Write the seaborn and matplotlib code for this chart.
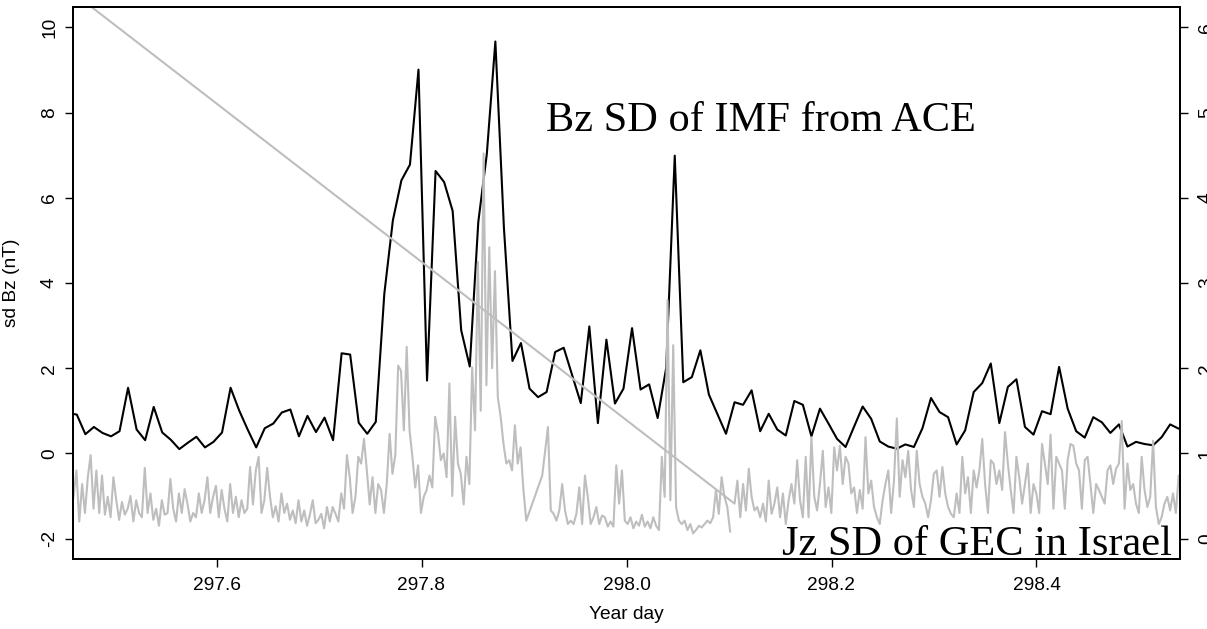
"""Bz SD of the IMF (ACE) against Jz SD of the GEC in Israel, year days 297-298."""
import numpy as np
import pandas as pd

import matplotlib
matplotlib.use("Agg")
import matplotlib.pyplot as plt
import seaborn as sns

# --- data --------------------------------------------------------------------

# Bz SD from ACE (nT), one sample every 12 minutes
bz_start = 297.4554
bz_step = 12 / 1440
bz_sd = [
    0.95,
    0.91, 0.45, 0.62, 0.48, 0.40, 0.52, 1.54, 0.56, 0.31, 1.09,
    0.49, 0.32, 0.10, 0.25, 0.39, 0.14, 0.27, 0.49, 1.54, 1.01,
    0.56, 0.14, 0.59, 0.70, 0.96, 1.03, 0.40, 0.88, 0.50, 0.84,
    0.31, 2.35, 2.32, 0.72, 0.46, 0.74, 3.75, 5.47, 6.41, 6.78,
    9.01, 1.71, 6.63, 6.37, 5.69, 2.89, 2.04, 5.43, 7.03, 9.67,
    5.30, 2.17, 2.59, 1.52, 1.32, 1.44, 2.38, 2.48, 1.83, 1.18,
    2.98, 0.71, 2.67, 1.17, 1.52, 2.94, 1.50, 1.62, 0.83, 2.01,
    6.99, 1.67, 1.79, 2.42, 1.38, 0.92, 0.46, 1.20, 1.14, 1.48,
    0.52, 0.93, 0.56, 0.42, 1.23, 1.14, 0.40, 1.05, 0.70, 0.34,
    0.15, 0.63, 1.10, 0.81, 0.28, 0.16, 0.11, 0.21, 0.15, 0.59,
    1.30, 0.97, 0.85, 0.21, 0.54, 1.44, 1.65, 2.11, 0.71, 1.56,
    1.74, 0.62, 0.44, 0.99, 0.92, 2.03, 1.05, 0.52, 0.37, 0.85,
    0.73, 0.48, 0.68, 0.16, 0.27, 0.22, 0.19, 0.38, 0.68, 0.58,
]

# Jz SD of the GEC (right axis), 4-minute samples in three pieces
jz_step = 4 / 1440
jz_a_start = 297.455
jz_a = [
    0.45, 0.25, 0.50, 0.80, 0.20, 0.64, 0.30, 0.72, 0.98, 0.35,
    0.80, 0.30, 0.74, 0.28, 0.49, 0.25, 0.72, 0.45, 0.22, 0.43,
    0.28, 0.35, 0.50, 0.20, 0.45, 0.30, 0.25, 0.83, 0.30, 0.53,
    0.22, 0.35, 0.15, 0.45, 0.28, 0.30, 0.70, 0.35, 0.20, 0.53,
    0.30, 0.58, 0.41, 0.20, 0.30, 0.25, 0.53, 0.30, 0.45, 0.72,
    0.30, 0.49, 0.62, 0.25, 0.57, 0.35, 0.20, 0.64, 0.30, 0.49,
    0.25, 0.45, 0.30, 0.35, 0.84, 0.40, 0.80, 0.96, 0.30, 0.45,
    0.83, 0.49, 0.25, 0.38, 0.20, 0.53, 0.30, 0.41, 0.22, 0.33,
    0.18, 0.45, 0.20, 0.33, 0.15, 0.28, 0.45, 0.18, 0.22, 0.29,
    0.12, 0.37, 0.20, 0.37, 0.29, 0.20, 0.53, 0.35, 0.98, 0.72,
    0.30, 0.49, 0.96, 0.88, 1.17, 0.80, 0.40, 0.72, 0.30, 0.64,
    0.57, 0.30, 0.64, 1.23, 0.76, 0.98, 2.03, 1.97, 1.27, 2.25,
    1.27, 0.96, 0.60, 0.86, 0.30, 0.49, 0.57, 0.74, 0.60, 1.43,
    1.23, 0.92, 1.00, 0.72, 1.82, 0.50, 1.43, 0.88, 0.76, 0.40,
    0.96, 0.64, 2.01, 1.27, 3.25, 1.50, 4.52, 1.80, 3.42, 2.00,
    3.14, 1.66, 1.43, 1.11, 0.88, 0.92, 0.80, 1.33, 0.88, 1.07,
    0.57, 0.21,
]
jz_b_start = 297.9178
jz_b = [
    0.74, 1.03, 1.31, 0.33, 0.29, 0.21, 0.33, 0.64, 0.33, 0.17,
    0.21, 0.17, 0.29, 0.60, 0.17, 0.74, 0.49, 0.17, 0.25, 0.37,
    0.17, 0.27, 0.25, 0.14, 0.20, 0.14, 0.86, 0.41, 0.80, 0.21,
    0.17, 0.25, 0.12, 0.20, 0.15, 0.28, 0.14, 0.20, 0.12, 0.25,
    0.15, 0.10, 0.96, 0.49, 2.80, 0.45, 2.27, 0.37, 0.21, 0.17,
    0.21, 0.10, 0.17, 0.06, 0.10, 0.15, 0.13, 0.17, 0.21, 0.18,
    0.25, 0.57, 0.29, 0.72, 0.49, 0.37, 0.08,
]
jz_c_start = 298.1054
jz_c = [
    0.41, 0.68, 0.25, 0.64, 0.33, 0.82, 0.49, 0.33, 0.37, 0.25,
    0.41, 0.20, 0.68, 0.29, 0.41, 0.60, 0.25, 0.53, 0.17, 0.45,
    0.64, 0.41, 0.92, 0.45, 0.25, 0.96, 0.25, 1.19, 0.49, 0.33,
    0.64, 1.03, 0.37, 0.60, 0.30, 1.07, 0.80, 1.09, 0.64, 0.96,
    0.88, 0.53, 0.60, 0.30, 0.57, 0.35, 1.19, 0.53, 0.68, 0.37,
    0.25, 0.17, 0.45, 0.64, 0.80, 0.30, 0.68, 1.41, 0.49, 0.92,
    0.72, 1.03, 0.57, 0.37, 1.03, 0.64, 0.49, 0.41, 0.25, 0.45,
    0.76, 0.80, 0.49, 0.84, 0.53, 0.37, 0.29, 0.25, 0.53, 0.30,
    0.96, 0.53, 0.72, 0.30, 0.80, 0.60, 0.80, 1.17, 0.64, 0.30,
    0.92, 0.88, 0.64, 0.80, 0.57, 1.25, 0.88, 0.57, 0.30, 0.96,
    0.72, 0.41, 0.64, 0.88, 0.30, 0.64, 0.53, 0.30, 1.11, 0.88,
    0.64, 1.22, 0.35, 0.96, 0.88, 0.80, 0.35, 0.92, 1.11, 1.09,
    0.88, 0.80, 0.35, 0.92, 0.96, 0.64, 0.30, 0.64, 0.57, 0.49,
    0.41, 0.80, 0.86, 0.64, 0.82, 0.88, 1.38, 0.35, 0.88, 0.57,
    0.64, 0.41, 0.30, 0.96, 0.57, 0.37, 0.49, 1.15, 0.37, 0.17,
    0.25, 0.41, 0.49, 0.33, 0.53, 0.30, 0.74,
]
# the last piece is joined to a stray point off the top-left of the plot
jz_c_lead_time = 297.42
jz_c_lead_value = 6.78

x_ticks = [297.6, 297.8, 298.0, 298.2, 298.4]
x_tick_labels = ["297.6", "297.8", "298.0", "298.2", "298.4"]
bz_ticks = [-2, 0, 2, 4, 6, 8, 10]
jz_ticks = [0, 1, 2, 3, 4, 5, 6]

# --- tables ------------------------------------------------------------------

bz = pd.DataFrame({
    "t": bz_start + np.arange(len(bz_sd)) * bz_step,
    "bz": bz_sd,
})

# pieces a and b are one trace (joined straight across the data gap);
# piece c is drawn on its own, starting from the stray point
pieces = [
    ("ab", jz_a_start + np.arange(len(jz_a)) * jz_step, jz_a),
    ("ab", jz_b_start + np.arange(len(jz_b)) * jz_step, jz_b),
    ("c", np.r_[jz_c_lead_time, jz_c_start + np.arange(len(jz_c)) * jz_step],
     [jz_c_lead_value] + jz_c),
]
jz = pd.concat(
    [pd.DataFrame({"t": t, "jz": v, "seg": s}) for s, t, v in pieces],
    ignore_index=True,
)

# --- figure ------------------------------------------------------------------

sns.set_style("ticks")
plt.rcParams["font.family"] = ["Liberation Sans", "DejaVu Sans"]
plt.rcParams["axes.unicode_minus"] = False
plt.rcParams["text.color"] = "black"
plt.rcParams["axes.labelcolor"] = "black"

FS = 13.8
fig = plt.figure(figsize=(12.07, 6.29), dpi=100)
ax = fig.add_axes([73 / 1207, 1 - 559 / 629, 1107 / 1207, 552 / 629])

sns.lineplot(data=bz, x="t", y="bz", ax=ax, color="black", linewidth=1.5,
             estimator=None, sort=False)
ax.set_xlim(297.46, 298.54)
ax.set_ylim(-2.48, 10.48)
ax.set_xticks(x_ticks, x_tick_labels)
ax.set_yticks(bz_ticks, [str(v) for v in bz_ticks])
ax.tick_params(axis="both", direction="out", length=5.8, width=1.0,
               labelsize=FS, colors="black")
ax.tick_params(axis="x", pad=7)
ax.tick_params(axis="y", pad=5, labelrotation=90)
for lab in ax.get_yticklabels():
    lab.set_va("center")
ax.set_xlabel("Year day", fontsize=FS, labelpad=9, color="black")
ax.set_ylabel("sd Bz (nT)", fontsize=FS, color="black")
ax.yaxis.set_label_coords(-0.048, 0.5)
for sp in ax.spines.values():
    sp.set_color("black")
    sp.set_linewidth(1.4)

ax.text(298.131, 7.56, "Bz SD of IMF from ACE", family="Liberation Serif",
        fontsize=30.5, ha="center", va="baseline", color="black")
ax.text(298.342, -2.39, "Jz SD of GEC in Israel", family="Liberation Serif",
        fontsize=30.5, ha="center", va="baseline", color="black")

ax2 = ax.twinx()
sns.lineplot(data=jz, x="t", y="jz", units="seg", estimator=None, ax=ax2,
             color="#bebebe", linewidth=1.5, legend=False)
ax2.set_xlim(297.46, 298.54)
ax2.set_ylim(-0.24, 6.24)
ax2.set_yticks(jz_ticks, [str(v) for v in jz_ticks])
ax2.set_ylabel("")
ax2.tick_params(axis="y", direction="out", length=5.8, width=1.0,
                labelsize=FS, colors="black", pad=7, labelrotation=90)
for lab in ax2.get_yticklabels():
    lab.set_va("center")
for sp in ax2.spines.values():
    sp.set_color("black")
    sp.set_linewidth(1.4)

fig.savefig("out.png", dpi=100)
